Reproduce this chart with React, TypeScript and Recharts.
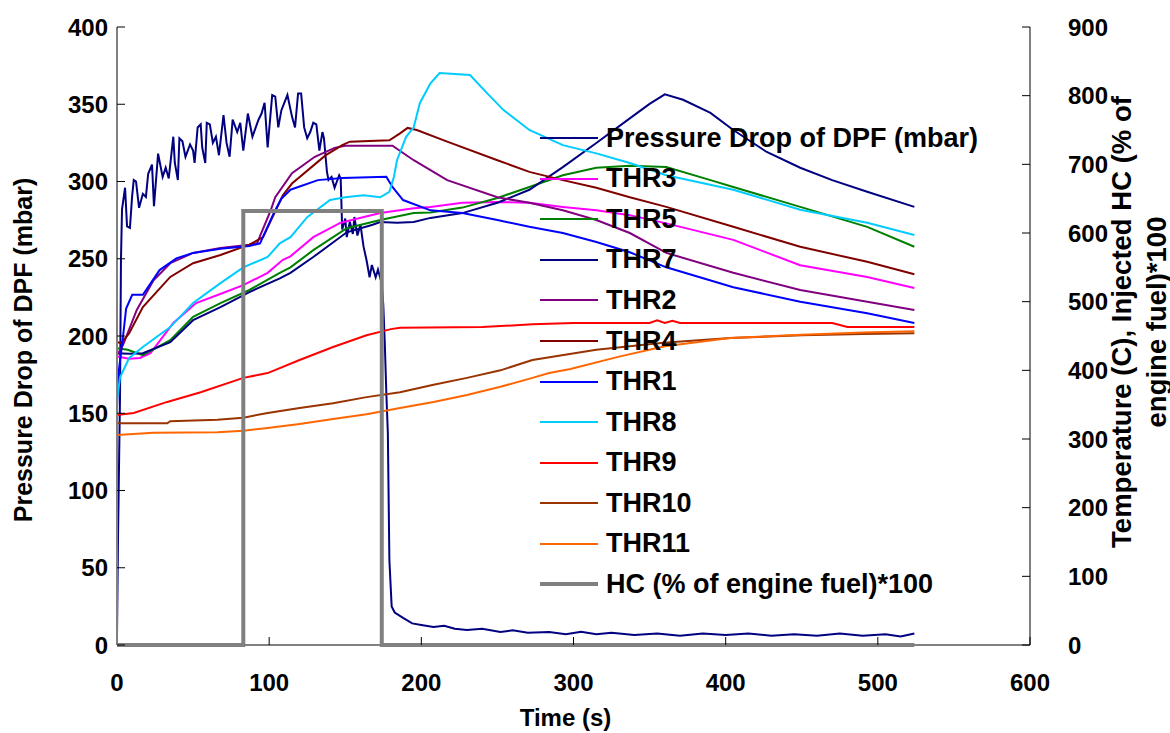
import { LineChart, Line, XAxis, YAxis, Legend } from 'recharts';

const FONT = '"Liberation Sans", Arial, Helvetica, sans-serif';

const xTicks = [0, 100, 200, 300, 400, 500, 600];
const pTicks = [0, 50, 100, 150, 200, 250, 300, 350, 400];
const tTicks = [0, 100, 200, 300, 400, 500, 600, 700, 800, 900];

// [time s, value]
const pressureDrop: [number, number][] = [
  [0, 6], [0.7, 72], [2, 163], [2.6, 249], [3.3, 282], [5.3, 296], [6.6, 271], [8.5, 270], [9.9, 290],
  [11, 301], [12.5, 300], [14.5, 283], [17, 292], [19, 290], [20.5, 305], [23, 311], [24.3, 284], [27, 318],
  [30, 303], [32, 309], [34, 302], [37, 329], [38, 312], [40, 301], [41, 328], [43, 326], [45, 316], [48, 324],
  [50, 320], [51, 312], [53, 335], [55, 337], [56, 322], [58, 312], [59, 338], [61, 337], [63, 325], [65, 329],
  [67, 317], [70, 343], [72, 325], [74, 316], [76, 340], [79, 332], [81, 338], [83, 320], [86, 344], [89, 329],
  [93, 340], [95, 344], [97, 351], [99, 322], [102, 356], [104, 355], [106, 335], [108, 346], [110, 351],
  [112, 356], [115, 342], [117, 335], [119, 357], [121, 357], [123, 335], [125, 328], [127, 332], [129, 338],
  [131, 337], [133, 320], [135, 332], [136, 328], [138, 306], [139, 301], [141, 303], [143, 296], [144.5, 300],
  [146, 304], [147, 302], [148, 269], [150, 276], [151, 264], [153, 274], [155, 266], [156, 277], [158, 265],
  [160, 272], [162, 258], [164, 249], [166, 238], [167.5, 246], [170, 238], [171.5, 243], [174, 234], [175, 220],
  [176, 195], [177, 163], [178, 137], [179, 55], [180.5, 25], [182.5, 21], [188, 17.5], [194, 14], [200, 13],
  [208, 11.7], [215, 12.5], [222, 10.5], [230, 9.7], [240, 10.5], [252, 8.4], [260, 9.5], [270, 8], [284, 8.4],
  [295, 7], [305, 8.5], [315, 7], [325, 8], [340, 6.5], [355, 7.5], [370, 6], [385, 7.5], [400, 6.5], [415, 7.5],
  [430, 6], [445, 7], [460, 6], [475, 7.5], [490, 6], [505, 7], [515, 5.5], [524, 7.5],
];

const thr3: [number, number][] = [
  [0, 420], [8, 417], [15, 418], [22, 425], [37, 469], [52, 498], [70, 513], [83, 524], [99, 542], [109, 561],
  [114, 566], [129, 594], [147, 615], [173, 629], [195, 636], [206, 638], [227, 644], [250, 645], [271, 644],
  [293, 638], [315, 633], [337, 626], [361, 614], [405, 590], [449, 553], [493, 536], [524, 520],
];

const thr5: [number, number][] = [
  [0, 432], [7, 430], [17, 422], [35, 444], [50, 478], [68, 498], [87, 517], [107, 542], [114, 550], [129, 575],
  [151, 607], [173, 619], [195, 629], [206, 630], [227, 637], [250, 651], [271, 667], [293, 684], [315, 695],
  [337, 698], [361, 696], [390, 677], [405, 667], [449, 638], [493, 609], [524, 580],
];

const thr7: [number, number][] = [
  [0, 425], [8, 424], [17, 425], [35, 441], [50, 473], [68, 492], [87, 514], [107, 534], [114, 542], [129, 565],
  [151, 601], [168, 612], [173, 616], [184, 615], [195, 616], [206, 622], [227, 629], [250, 644], [271, 663],
  [293, 696], [315, 731], [337, 767], [350, 788], [360, 802], [372, 794], [390, 775], [405, 750], [427, 718],
  [449, 695], [470, 677], [493, 660], [524, 638],
];

const thr2: [number, number][] = [
  [0, 422], [4, 437], [13, 488], [24, 531], [35, 556], [50, 571], [68, 578], [87, 583], [92, 585], [101, 633],
  [104, 652], [115, 687], [130, 711], [143, 724], [150, 727], [181, 727], [195, 706], [217, 677], [250, 652],
  [271, 644], [293, 633], [315, 619], [337, 600], [361, 571], [405, 542], [449, 517], [493, 500], [524, 488],
];

const thr4: [number, number][] = [
  [0, 441], [3, 440], [8, 454], [17, 492], [35, 536], [50, 556], [68, 568], [87, 583], [96, 594], [109, 655],
  [115, 672], [137, 713], [148, 728], [153, 733], [179, 735], [186, 745], [191, 753], [197, 750], [217, 733],
  [250, 706], [271, 689], [293, 677], [315, 666], [337, 652], [361, 638], [405, 609], [449, 580], [493, 558],
  [524, 540],
];

const thr1: [number, number][] = [
  [0, 347], [1, 396], [4, 450], [6, 490], [10, 510], [17, 510], [28, 546], [39, 563], [50, 571], [68, 577],
  [87, 581], [94, 585], [103, 629], [108, 650], [114, 663], [132, 677], [148, 680], [177, 682], [181, 667],
  [188, 648], [206, 633], [227, 629], [250, 619], [271, 609], [293, 600], [315, 587], [337, 572], [361, 550],
  [405, 521], [449, 500], [493, 483], [524, 469],
];

const thr8: [number, number][] = [
  [0, 357], [2, 390], [8, 418], [17, 434], [35, 463], [50, 498], [68, 527], [83, 550], [99, 565], [107, 585],
  [114, 594], [125, 623], [140, 648], [150, 652], [162, 655], [173, 652], [179, 660], [182, 682], [184, 706],
  [190, 740], [195, 754], [199, 789], [206, 818], [212, 833], [232, 830], [243, 804], [254, 779], [271, 750],
  [293, 728], [315, 716], [337, 702], [361, 684], [405, 663], [449, 634], [493, 615], [524, 597],
];

const thr9: [number, number][] = [
  [0, 335], [11, 338], [33, 354], [55, 368], [83, 389], [99, 396], [120, 415], [142, 434], [164, 451],
  [180, 460], [186, 462], [240, 463], [273, 467], [300, 469], [350, 469], [355, 473], [360, 469], [365, 472],
  [370, 469], [470, 469], [480, 463], [524, 463],
];

const thr10: [number, number][] = [
  [0, 323], [33, 323], [35, 326], [66, 328], [83, 331], [99, 338], [120, 345], [142, 352], [164, 361],
  [186, 368], [208, 379], [230, 389], [252, 400], [273, 415], [315, 430], [359, 440], [403, 447], [450, 451],
  [490, 453], [524, 454],
];

const thr11: [number, number][] = [
  [0, 306], [24, 309], [66, 310], [83, 312], [99, 316], [120, 322], [142, 329], [164, 336], [186, 345],
  [208, 354], [230, 364], [252, 376], [273, 389], [284, 396], [298, 402], [330, 420], [360, 435], [403, 447],
  [450, 452], [490, 455], [524, 457],
];

const hcInjected: [number, number][] = [
  [0, 0], [83, 0], [83, 632], [174, 632], [174, 0], [524, 0],
];

const series = [
  { name: 'Pressure Drop of DPF (mbar)', pts: pressureDrop, color: '#000080', axis: 'p', w: 2 },
  { name: 'THR3', pts: thr3, color: '#FF00FF', axis: 't', w: 2 },
  { name: 'THR5', pts: thr5, color: '#008000', axis: 't', w: 2 },
  { name: 'THR7', pts: thr7, color: '#000080', axis: 't', w: 2 },
  { name: 'THR2', pts: thr2, color: '#800080', axis: 't', w: 2 },
  { name: 'THR4', pts: thr4, color: '#800000', axis: 't', w: 2 },
  { name: 'THR1', pts: thr1, color: '#0000FF', axis: 't', w: 2 },
  { name: 'THR8', pts: thr8, color: '#00CCFF', axis: 't', w: 2 },
  { name: 'THR9', pts: thr9, color: '#FF0000', axis: 't', w: 2 },
  { name: 'THR10', pts: thr10, color: '#993300', axis: 't', w: 2 },
  { name: 'THR11', pts: thr11, color: '#FF6600', axis: 't', w: 2 },
  { name: 'HC (% of engine fuel)*100', pts: hcInjected, color: '#808080', axis: 't', w: 4 },
];

const tickStyle = { fill: '#000', fontSize: 24, fontWeight: 700, fontFamily: FONT };

const LegendBox = () => (
  <div style={{ fontFamily: FONT, fontWeight: 700, fontSize: 27, color: '#000' }}>
    {series.map(s => (
      <div key={s.name} style={{ display: 'flex', alignItems: 'center', height: 40.55, whiteSpace: 'nowrap' }}>
        <svg width={66} height={10} style={{ flex: 'none' }}>
          <line x1={0} x2={58} y1={5} y2={5} stroke={s.color} strokeWidth={s.w} />
        </svg>
        <span>{s.name}</span>
      </div>
    ))}
  </div>
);

const LeftTitle = ({ viewBox }: any) => {
  const cx = 23;
  const cy = viewBox.y + viewBox.height / 2 + 14;
  return (
    <text x={cx} y={cy} transform={`rotate(-90 ${cx} ${cy})`} textAnchor="middle" dominantBaseline="central"
      style={{ fontFamily: FONT, fontWeight: 700, fontSize: 25, fill: '#000' }}>
      Pressure Drop of DPF (mbar)
    </text>
  );
};

const RightTitle = ({ viewBox }: any) => {
  const cy = viewBox.y + viewBox.height / 2 - 14;
  const x1 = viewBox.x + 91;
  const x2 = viewBox.x + 126;
  const st = { fontFamily: FONT, fontWeight: 700, fontSize: 27.5, fill: '#000' };
  return (
    <g>
      <text x={x1} y={cy} transform={`rotate(-90 ${x1} ${cy})`} textAnchor="middle" dominantBaseline="central" style={st}>
        Temperature (C), Injected HC (% of
      </text>
      <text x={x2} y={cy} transform={`rotate(-90 ${x2} ${cy})`} textAnchor="middle" dominantBaseline="central" style={st}>
        engine fuel)*100
      </text>
    </g>
  );
};

const BottomTitle = ({ viewBox }: any) => {
  const cx = viewBox.x + viewBox.width / 2 - 8;
  return (
    <text x={cx} y={726} textAnchor="middle"
      style={{ fontFamily: FONT, fontWeight: 700, fontSize: 24, fill: '#000' }}>
      Time (s)
    </text>
  );
};

export default function App() {
  return (
    <div style={{ position: 'absolute', left: 0, top: 0, width: 1170, height: 733, background: '#fff' }}>
      <LineChart width={1170} height={733} margin={{ top: 27, right: 0, bottom: 0, left: 0 }}>
        <XAxis
          type="number"
          dataKey="t"
          domain={[0, 600]}
          ticks={xTicks}
          height={88}
          axisLine={{ stroke: '#808080', strokeWidth: 2 }}
          tickLine={{ stroke: '#000' }}
          tickSize={-8}
          tickMargin={37}
          tick={tickStyle}
          label={{ content: BottomTitle }}
        />
        <YAxis
          yAxisId="p"
          domain={[0, 400]}
          ticks={pTicks}
          width={117}
          axisLine={{ stroke: '#808080', strokeWidth: 2 }}
          tickLine={{ stroke: '#000' }}
          tickSize={-8}
          tickMargin={17}
          tick={tickStyle}
          label={{ content: LeftTitle }}
        />
        <YAxis
          yAxisId="t"
          orientation="right"
          domain={[0, 900]}
          ticks={tTicks}
          width={140}
          axisLine={{ stroke: '#000' }}
          tickLine={{ stroke: '#000' }}
          tickSize={-8}
          tickMargin={46}
          tick={{ ...tickStyle, textAnchor: 'start' }}
          label={{ content: RightTitle }}
        />
        <Legend
          layout="vertical"
          align="center"
          verticalAlign="middle"
          content={LegendBox}
          wrapperStyle={{ left: 540, top: 118, width: 460, height: 490 }}
        />
        {series.map(s => (
          <Line
            key={s.name}
            name={s.name}
            yAxisId={s.axis}
            data={s.pts.map(([t, v]) => ({ t, v }))}
            dataKey="v"
            type="linear"
            stroke={s.color}
            strokeWidth={s.w}
            dot={false}
            activeDot={false}
            isAnimationActive={false}
          />
        ))}
      </LineChart>
    </div>
  );
}
